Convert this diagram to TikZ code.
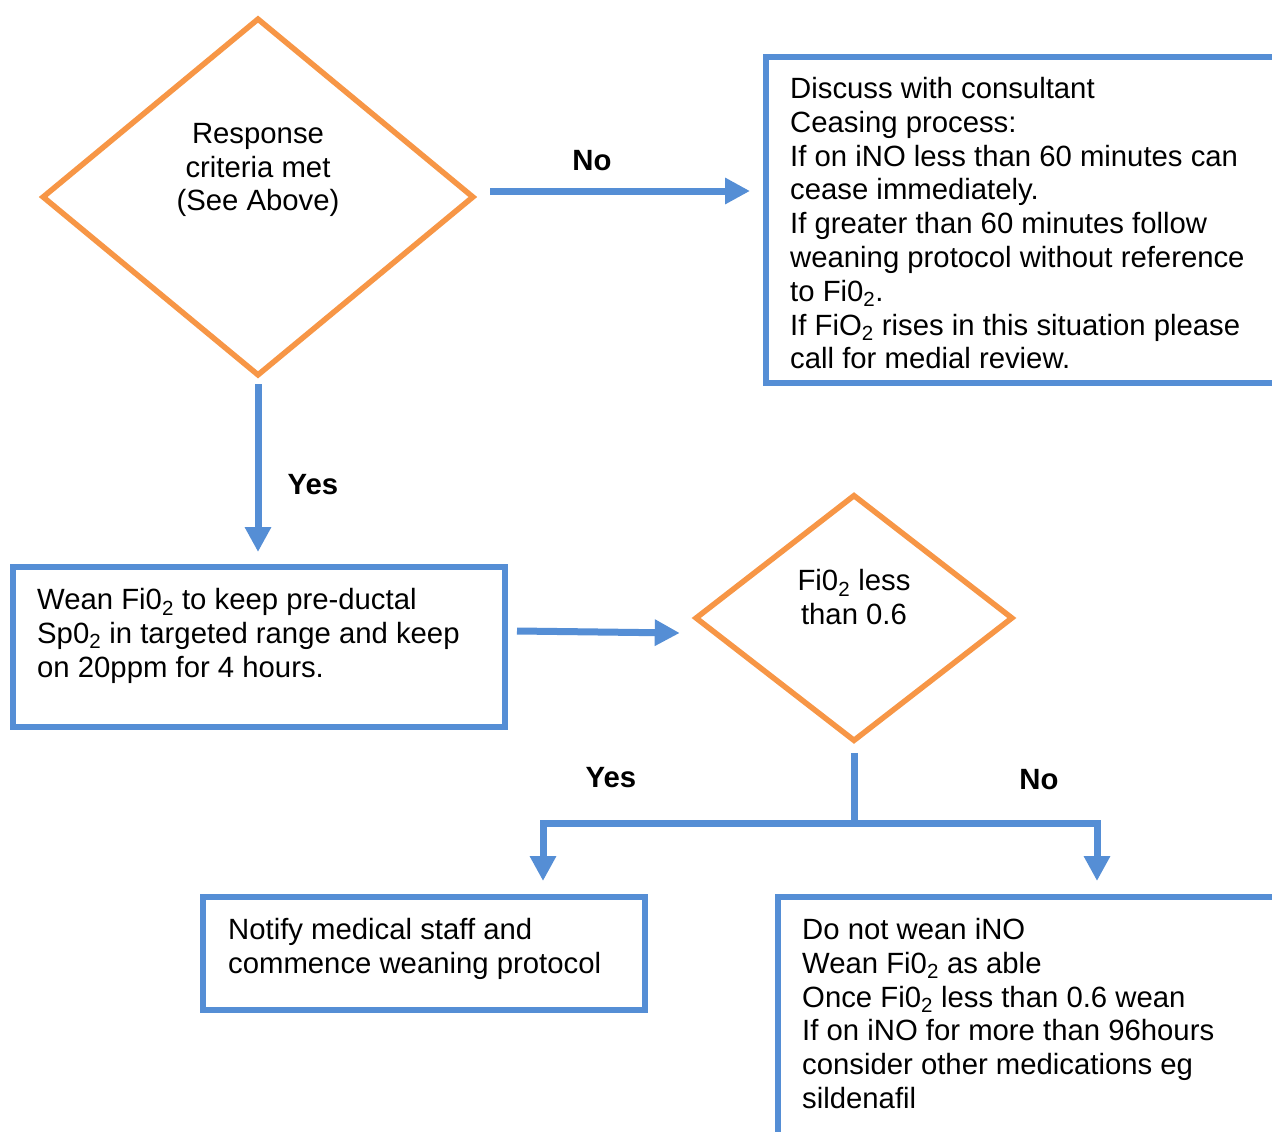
\documentclass[tikz,border=0pt]{standalone}
\usepackage{fontspec}
\setmainfont{Liberation Sans}
\usetikzlibrary{shapes.geometric,arrows.meta,calc}
\definecolor{bl}{RGB}{85,142,213}
\definecolor{org}{RGB}{247,150,70}
\begin{document}
\begin{tikzpicture}[x=1pt,y=-1pt,
  fs/.style={font=\fontsize{29.3}{33.8}\selectfont},
  dia/.style={diamond,draw=org,line width=5.5pt,inner sep=0pt},
  box/.style={draw=bl,line width=6.5pt,rectangle,inner sep=0pt},
  txt/.style={fs,align=left,inner sep=0pt,anchor=north west},
  ctxt/.style={fs,align=center,inner sep=0pt},
  lbl/.style={font=\fontsize{29.3}{33.8}\selectfont\bfseries,inner sep=0pt},
  arr/.style={draw=bl,line width=7pt,-{Triangle[length=25pt,width=25pt]}},
  ln/.style={draw=bl,line width=7pt}
]
\useasboundingbox (0,0) rectangle (1272,1132);
\fill[white] (0,0) rectangle (1272,1132);
\clip (0,0) rectangle (1272,1132);

% shapes
\node[dia,minimum width=432pt,minimum height=358pt] (d1) at (258,197) {};
\node[ctxt] (d1t) at (258,170) {Response\\criteria met\\(See Above)};

\node[box,minimum width=524pt,minimum height=326pt] (b1) at (1028,220) {};
\node[txt] (b1t) at (790,77) {Discuss with consultant\\Ceasing process:\\If on iNO less than 60 minutes can\\cease immediately.\\If greater than 60 minutes follow\\weaning protocol without reference\\to Fi0\textsubscript{2}.\\If FiO\textsubscript{2} rises in this situation please\\call for medial review.};

\node[box,minimum width=492pt,minimum height=160pt] (b2) at (259,647) {};
\node[txt] (b2t) at (37,588) {Wean Fi0\textsubscript{2} to keep pre-ductal\\Sp0\textsubscript{2} in targeted range and keep\\on 20ppm for 4 hours.};

\node[dia,minimum width=318pt,minimum height=247pt] (d2) at (854,618) {};
\node[ctxt] (d2t) at (854,597) {Fi0\textsubscript{2} less\\than 0.6};

\node[box,minimum width=442pt,minimum height=113pt] (b3) at (424,953.5) {};
\node[txt] (b3t) at (228,918) {Notify medical staff and\\commence weaning protocol};

\node[box,minimum width=512pt,minimum height=253pt] (b4) at (1034,1023.5) {};
\node[txt] (b4t) at (802,918) {Do not wean iNO\\Wean Fi0\textsubscript{2} as able\\Once Fi0\textsubscript{2} less than 0.6 wean\\If on iNO for more than 96hours\\consider other medications eg\\sildenafil};

% labels
\node[lbl] (lno1) at (592,161) {No};
\node[lbl] (lyes1) at (313,485) {Yes};
\node[lbl] (lyes2) at (611,778) {Yes};
\node[lbl] (lno2) at (1039,780) {No};

% connectors
\draw[arr] ([xshift=13.5pt,yshift=6pt]d1.east) -- ([xshift=-12.75pt,yshift=6pt]d1.east -| b1.west);
\draw[arr] ([yshift=-5.5pt]d1.south) -- ([yshift=11.75pt]d1.south |- b2.north);
\draw[arr] ([xshift=8.75pt,yshift=16pt]b2.east) -- ([xshift=-12.5pt,yshift=-15pt]d2.west);
\coordinate (j) at (854,823);
\coordinate (yesend) at (543,881);
\coordinate (noend) at (1097,881);
\draw[ln] ([yshift=-8.5pt]d2.south) -- (j);
\draw[arr] (j) -| (yesend);
\draw[arr] (j) -| (noend);
\end{tikzpicture}
\end{document}
